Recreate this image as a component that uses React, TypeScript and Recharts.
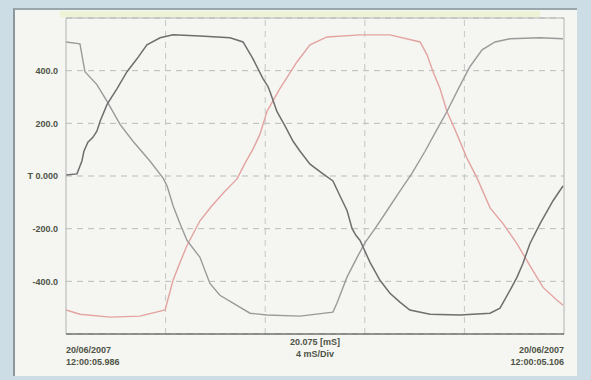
import React from 'react';
import {
  LineChart,
  Line,
  XAxis,
  YAxis,
  CartesianGrid,
  ReferenceLine,
  Label,
} from 'recharts';

// time in mS (5 div x 4 mS), amplitude in scope units
const phaseA = [
  { t: 0, v: 4 }, { t: 0.44, v: 8 }, { t: 0.64, v: 57 }, { t: 0.72, v: 94 },
  { t: 0.88, v: 128 }, { t: 1.08, v: 147 }, { t: 1.24, v: 170 }, { t: 1.37, v: 208 },
  { t: 1.65, v: 272 }, { t: 2.05, v: 332 }, { t: 2.45, v: 396 }, { t: 2.85, v: 445 },
  { t: 3.25, v: 498 }, { t: 3.78, v: 525 }, { t: 4.3, v: 536 }, { t: 5.38, v: 532 },
  { t: 6.59, v: 525 }, { t: 7.11, v: 509 }, { t: 7.51, v: 445 }, { t: 7.91, v: 370 },
  { t: 8.11, v: 340 }, { t: 8.19, v: 321 }, { t: 8.47, v: 245 }, { t: 8.8, v: 189 },
  { t: 9.12, v: 132 }, { t: 9.4, v: 94 }, { t: 9.8, v: 45 }, { t: 10.28, v: 11 },
  { t: 10.72, v: -19 }, { t: 11.0, v: -75 }, { t: 11.29, v: -132 }, { t: 11.49, v: -200 },
  { t: 11.65, v: -226 }, { t: 11.81, v: -245 }, { t: 12.21, v: -328 }, { t: 12.61, v: -396 },
  { t: 13.01, v: -445 }, { t: 13.41, v: -479 }, { t: 13.81, v: -509 }, { t: 14.62, v: -525 },
  { t: 15.82, v: -528 }, { t: 17.03, v: -521 }, { t: 17.43, v: -502 }, { t: 17.83, v: -434 },
  { t: 18.11, v: -385 }, { t: 18.35, v: -332 }, { t: 18.63, v: -257 }, { t: 19.04, v: -181 },
  { t: 19.56, v: -94 }, { t: 19.96, v: -38 },
];

const phaseB = [
  { t: 0, v: 509 }, { t: 0.56, v: 502 }, { t: 0.76, v: 396 }, { t: 1.24, v: 347 },
  { t: 1.65, v: 283 }, { t: 2.17, v: 196 }, { t: 2.69, v: 132 }, { t: 3.37, v: 57 },
  { t: 3.9, v: -8 }, { t: 4.06, v: -38 }, { t: 4.3, v: -113 }, { t: 4.58, v: -181 },
  { t: 4.86, v: -245 }, { t: 5.38, v: -309 }, { t: 5.78, v: -408 }, { t: 6.18, v: -453 },
  { t: 6.71, v: -483 }, { t: 7.39, v: -521 }, { t: 8.07, v: -528 }, { t: 9.4, v: -532 },
  { t: 10.72, v: -517 }, { t: 10.88, v: -483 }, { t: 11.28, v: -385 }, { t: 11.69, v: -309 },
  { t: 12.01, v: -253 }, { t: 12.41, v: -200 }, { t: 12.89, v: -132 }, { t: 13.41, v: -57 },
  { t: 13.9, v: 11 }, { t: 14.42, v: 94 }, { t: 14.9, v: 177 }, { t: 15.3, v: 245 },
  { t: 15.74, v: 328 }, { t: 16.22, v: 415 }, { t: 16.71, v: 479 }, { t: 17.23, v: 509 },
  { t: 17.83, v: 521 }, { t: 19.04, v: 525 }, { t: 19.96, v: 521 },
];

const phaseC = [
  { t: 0, v: -509 }, { t: 0.56, v: -525 }, { t: 1.77, v: -536 }, { t: 2.97, v: -532 },
  { t: 3.98, v: -509 }, { t: 4.3, v: -396 }, { t: 4.58, v: -328 }, { t: 4.86, v: -264 },
  { t: 5.38, v: -170 }, { t: 5.86, v: -113 }, { t: 6.39, v: -57 }, { t: 6.87, v: -11 },
  { t: 7.19, v: 49 }, { t: 7.51, v: 102 }, { t: 7.79, v: 159 }, { t: 8.07, v: 245 },
  { t: 8.59, v: 332 }, { t: 9.28, v: 434 }, { t: 9.8, v: 498 }, { t: 10.48, v: 528 },
  { t: 11.81, v: 536 }, { t: 13.01, v: 536 }, { t: 14.22, v: 509 }, { t: 14.5, v: 460 },
  { t: 14.74, v: 396 }, { t: 15.02, v: 332 }, { t: 15.3, v: 245 }, { t: 15.7, v: 159 },
  { t: 16.1, v: 68 }, { t: 16.51, v: -8 }, { t: 17.03, v: -121 }, { t: 17.55, v: -181 },
  { t: 18.11, v: -257 }, { t: 18.63, v: -340 }, { t: 19.16, v: -423 }, { t: 19.72, v: -472 },
  { t: 19.96, v: -491 },
];

const yTicks = [-400, -200, 0, 200, 400];
const xDivs = [0, 4, 8, 12, 16, 20];
const startLabel = ['20/06/2007', '12:00:05.986'];
const centerLabel = ['20.075 [mS]', '4 mS/Div'];
const endLabel = ['20/06/2007', '12:00:05.106'];

const TEXT = '#4f5346';
const FONT = '"Liberation Sans", "DejaVu Sans", sans-serif';

const formatY = (v: number) => (v === 0 ? 'T 0.000' : v.toFixed(1));

const BottomTick = (props: any) => {
  const { x, y, payload } = props;
  let lines: string[] | null = null;
  let anchor: 'start' | 'end' = 'start';
  if (payload.value === 0) lines = startLabel;
  if (payload.value === 20) {
    lines = endLabel;
    anchor = 'end';
  }
  if (!lines) return null;
  return (
    <g>
      <text x={x} y={y + 11} textAnchor={anchor} fontSize={9} fontWeight="bold" fill={TEXT} fontFamily={FONT}>
        {lines[0]}
      </text>
      <text x={x} y={y + 23} textAnchor={anchor} fontSize={9} fontWeight="bold" fill={TEXT} fontFamily={FONT}>
        {lines[1]}
      </text>
    </g>
  );
};

const CenterLabel = (props: any) => {
  const { viewBox } = props;
  const cx = viewBox.x + viewBox.width / 2;
  const y = viewBox.y;
  return (
    <g>
      <text x={cx} y={y + 11} textAnchor="middle" fontSize={9} fontWeight="bold" fill={TEXT} fontFamily={FONT}>
        {centerLabel[0]}
      </text>
      <text x={cx} y={y + 23} textAnchor="middle" fontSize={9} fontWeight="bold" fill={TEXT} fontFamily={FONT}>
        {centerLabel[1]}
      </text>
    </g>
  );
};

export default function App() {
  return (
    <div style={{ position: 'fixed', left: 0, top: 0, width: 591, height: 380, background: '#cddde6' }}>
      <div
        style={{
          position: 'absolute',
          left: 13,
          top: 8,
          width: 562,
          height: 366,
          background: '#f5f6f2',
          borderLeft: '2px solid #8b989e',
          borderTop: '2px solid #9aa6ab',
        }}
      />
      <div style={{ position: 'absolute', left: 60, top: 11, width: 480, height: 6, background: '#eef2d6' }} />
      <div style={{ position: 'absolute', left: 0, top: 0 }}>
        <LineChart width={591} height={380} margin={{ top: 18, right: 27, bottom: 0, left: 6 }}>
          <CartesianGrid
            stroke="#b9bcb8"
            strokeDasharray="6 5"
            vertical={false}
          />
          {xDivs.slice(1, -1).map((d) => (
            <ReferenceLine key={d} x={d} stroke="#c4c7c3" strokeDasharray="6 5" />
          ))}
          <ReferenceLine y={600} stroke="#b0b5b2" />
          <ReferenceLine x={20} stroke="#b0b5b2" />
          <XAxis
            dataKey="t"
            type="number"
            domain={[0, 20]}
            ticks={xDivs}
            allowDataOverflow
            height={46}
            axisLine={{ stroke: '#6f7370', strokeWidth: 1.5 }}
            tickLine={false}
            tick={<BottomTick />}
            interval={0}
          >
            <Label content={<CenterLabel />} position="insideBottom" />
          </XAxis>
          <YAxis
            dataKey="v"
            type="number"
            domain={[-600, 600]}
            ticks={yTicks}
            width={60}
            axisLine={{ stroke: '#b0b5b2' }}
            tickLine={false}
            tickFormatter={formatY}
            tick={{ fontSize: 9, fontWeight: 'bold', fill: TEXT, fontFamily: FONT }}
            interval={0}
          />
          <Line
            data={phaseC}
            dataKey="v"
            type="linear"
            stroke="#e3a3a0"
            strokeWidth={1.4}
            dot={false}
            isAnimationActive={false}
          />
          <Line
            data={phaseB}
            dataKey="v"
            type="linear"
            stroke="#9a9a9a"
            strokeWidth={1.4}
            dot={false}
            isAnimationActive={false}
          />
          <Line
            data={phaseA}
            dataKey="v"
            type="linear"
            stroke="#6e6e6e"
            strokeWidth={1.5}
            dot={false}
            isAnimationActive={false}
          />
        </LineChart>
      </div>
    </div>
  );
}
